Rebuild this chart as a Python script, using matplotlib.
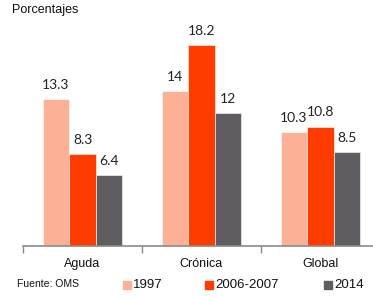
import matplotlib.pyplot as plt
import matplotlib.patches as mpatches
import numpy as np

categories = ["Aguda", "Crónica", "Global"]
series_names = ["1997", "2006-2007", "2014"]
v1997 = [13.3, 14, 10.3]
v2006 = [8.3, 18.2, 10.8]
v2014 = [6.4, 12, 8.5]
colors = ["#FCB096", "#FF3C00", "#5F5D62"]

fig = plt.figure(figsize=(3.73, 2.96), dpi=100)
ax = fig.add_axes([23 / 373, 50 / 296, 357 / 373, 221 / 296])

x = np.arange(len(categories))
w = 0.223
for i, (vals, c) in enumerate(zip([v1997, v2006, v2014], colors)):
    pos = x + (i - 1) * w
    ax.bar(pos, vals, width=w, color=c, edgecolor="white", linewidth=0.4)
    for p, v in zip(pos, vals):
        ax.annotate(f"{v:g}", (p, v), xytext=(0, 6), textcoords="offset points",
                    ha="center", va="bottom", fontsize=10, family="Lato", color="#222222")

ax.set_xlim(-0.5, 2.5)
ax.set_ylim(0, 20)
for s in ["top", "right", "left"]:
    ax.spines[s].set_visible(False)
ax.spines["bottom"].set_color("#8a8a8a")
ax.spines["bottom"].set_linewidth(1.2)
ax.set_yticks([])
ax.set_xticks([-0.5, 0.5, 1.5, 2.5])
ax.set_xticklabels([])
ax.tick_params(axis="x", length=5, color="#8a8a8a", width=1)
for xi, lab in zip(x, categories):
    ax.text(xi, -0.055, lab, transform=ax.get_xaxis_transform(), ha="center", va="top",
            fontsize=9, family="Liberation Sans", color="#111111")

fig.text(12 / 373, 1 - 10 / 296, "Porcentajes", ha="left", va="center",
         fontsize=9, family="Liberation Sans", color="#111111")
fig.text(17 / 373, 1 - 284 / 296, "Fuente: OMS", ha="left", va="center",
         fontsize=7.5, family="Liberation Sans", color="#111111")

leg_x = [123, 205, 324]
for lx, name, c in zip(leg_x, series_names, colors):
    fig.patches.append(mpatches.Rectangle((lx / 373, (296 - 289) / 296), 8 / 373, 8 / 296,
                                          transform=fig.transFigure, color=c))
    fig.text((lx + 10) / 373, 1 - 284.5 / 296, name, ha="left", va="center",
             fontsize=9.5, family="Liberation Sans", color="#111111")

fig.savefig("out.png", dpi=100)
